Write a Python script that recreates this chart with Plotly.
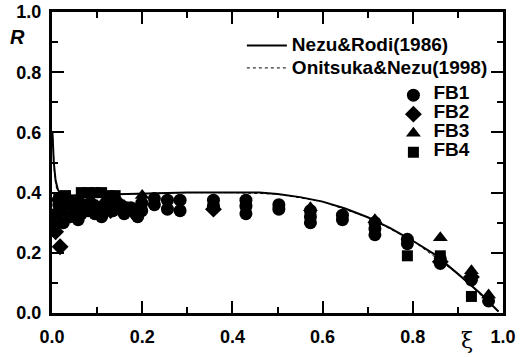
import plotly.graph_objects as go

# Nezu & Rodi (1986) correlation curve R(xi)
curve_xi = [0.001, 0.004, 0.008, 0.013, 0.02, 0.04, 0.1, 0.2, 0.3, 0.4, 0.46, 0.5,
            0.55, 0.6, 0.65, 0.7, 0.75, 0.8, 0.85, 0.9, 0.95, 0.99]
curve_r = [0.60, 0.50, 0.44, 0.41, 0.395, 0.39, 0.393, 0.397, 0.40, 0.40, 0.40, 0.395,
           0.385, 0.37, 0.347, 0.318, 0.282, 0.24, 0.193, 0.13, 0.065, 0.005]

# Onitsuka & Nezu (1998) near-wall curve
on_xi = [0.002, 0.005, 0.009, 0.014, 0.02, 0.04, 0.1, 0.2, 0.3, 0.4, 0.5, 0.6, 0.7,
         0.8, 0.9, 0.99]
on_r = [0.58, 0.47, 0.42, 0.40, 0.39, 0.39, 0.393, 0.397, 0.40, 0.40, 0.395, 0.37,
        0.318, 0.24, 0.13, 0.005]

# Measured cases
fb1_xi = [0.005, 0.01, 0.015, 0.02, 0.025, 0.03, 0.04, 0.045, 0.05, 0.058, 0.065, 0.07,
          0.08, 0.09, 0.095, 0.105, 0.11, 0.12, 0.135, 0.14, 0.15, 0.16, 0.165, 0.175,
          0.185, 0.19, 0.199, 0.199, 0.227, 0.227, 0.256, 0.256, 0.284, 0.284, 0.358,
          0.358, 0.43, 0.43, 0.43, 0.503, 0.503, 0.573, 0.573, 0.573, 0.644, 0.644,
          0.716, 0.716, 0.716, 0.788, 0.788, 0.861, 0.861, 0.93, 0.968]
fb1_r = [0.30, 0.33, 0.36, 0.34, 0.30, 0.37, 0.32, 0.36, 0.35, 0.31, 0.33, 0.36,
         0.34, 0.36, 0.33, 0.35, 0.32, 0.36, 0.34, 0.36, 0.36, 0.33, 0.35, 0.35,
         0.33, 0.32, 0.365, 0.34, 0.38, 0.36, 0.375, 0.345, 0.375, 0.34, 0.375,
         0.355, 0.375, 0.355, 0.33, 0.36, 0.345, 0.34, 0.32, 0.30, 0.325, 0.31,
         0.30, 0.28, 0.26, 0.245, 0.23, 0.18, 0.165, 0.11, 0.04]

fb2_xi = [0.008, 0.018, 0.025, 0.04, 0.06, 0.08, 0.1, 0.13, 0.16, 0.358, 0.861, 0.93]
fb2_r = [0.27, 0.22, 0.35, 0.37, 0.33, 0.36, 0.35, 0.34, 0.35, 0.345, 0.17, 0.12]

fb3_xi = [0.01, 0.03, 0.06, 0.09, 0.12, 0.15, 0.2, 0.573, 0.716, 0.861, 0.93, 0.968]
fb3_r = [0.38, 0.36, 0.38, 0.37, 0.38, 0.37, 0.39, 0.35, 0.31, 0.25, 0.14, 0.06]

fb4_xi = [0.015, 0.03, 0.05, 0.065, 0.08, 0.095, 0.11, 0.125, 0.14, 0.788, 0.861, 0.93]
fb4_r = [0.38, 0.39, 0.37, 0.40, 0.40, 0.40, 0.40, 0.39, 0.39, 0.19, 0.19, 0.055]

tick_vals = [0.0, 0.2, 0.4, 0.6, 0.8, 1.0]
tick_text = ["0.0", "0.2", "0.4", "0.6", "0.8", "1.0"]

FONT = "Liberation Sans"
LABEL_PX = 19


def label(text):
    # legend text drawn larger than the legend's nominal font (keeps rows compact)
    return f'<span style="font-size:{LABEL_PX}px">{text}</span>'


fig = go.Figure()
fig.add_trace(go.Scatter(x=curve_xi, y=curve_r, mode="lines", name=label("Nezu&Rodi(1986)"),
                         line=dict(color="black", width=2), legend="legend"))
fig.add_trace(go.Scatter(x=on_xi, y=on_r, mode="lines", name=label("Onitsuka&Nezu(1998)"),
                         line=dict(color="black", width=1, dash="dot"), legend="legend"))

for name, xs, ys, sym, sz in [("FB1", fb1_xi, fb1_r, "circle", 13),
                              ("FB2", fb2_xi, fb2_r, "diamond", 13),
                              ("FB3", fb3_xi, fb3_r, "triangle-up", 13),
                              ("FB4", fb4_xi, fb4_r, "square", 11)]:
    fig.add_trace(go.Scatter(x=xs, y=ys, mode="markers", name=label(name), legend="legend2",
                             marker=dict(symbol=sym, size=sz, color="black",
                                         line=dict(width=0))))

axis_common = dict(
    range=[0, 1], tickvals=tick_vals, ticktext=tick_text,
    ticks="inside", ticklen=12, tickwidth=2, tickcolor="black",
    minor=dict(dtick=0.1, ticks="inside", ticklen=6, tickwidth=2, tickcolor="black"),
    showline=True, linecolor="black", linewidth=3, mirror="allticks",
    showgrid=False, zeroline=False, automargin=False,
    tickfont=dict(family=FONT, size=18, color="black", weight="bold"),
)

fig.update_xaxes(**axis_common, ticklabelstandoff=5)
fig.update_yaxes(**axis_common, ticklabelstandoff=4)

fig.update_layout(
    width=525, height=357,
    margin=dict(l=52, r=22, t=12, b=44, autoexpand=False),
    paper_bgcolor="white", plot_bgcolor="white",
    legend=dict(x=0.421, y=0.943, xanchor="left", yanchor="top", bgcolor="rgba(0,0,0,0)",
                font=dict(family=FONT, size=15, color="black", weight="bold"),
                tracegroupgap=0, itemwidth=40),
    legend2=dict(x=0.757, y=0.772, xanchor="left", yanchor="top", bgcolor="rgba(0,0,0,0)",
                 font=dict(family=FONT, size=11, color="black", weight="bold"),
                 tracegroupgap=0, itemwidth=30),
    annotations=[
        dict(text="<i>R</i>", x=-0.098, y=0.96, xref="paper", yref="paper",
             showarrow=False, font=dict(family=FONT, size=20, color="black", weight="bold")),
        dict(text="ξ", x=0.938, y=-0.14, xref="paper", yref="paper",
             showarrow=False, font=dict(family="DejaVu Serif", size=22, color="black")),
    ],
)

fig.write_html("out.html")
